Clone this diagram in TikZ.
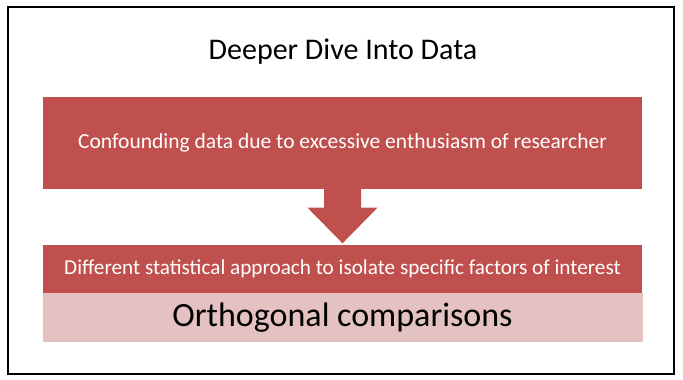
\documentclass[tikz,border=0pt]{standalone}
\usepackage{fontspec}
\setmainfont{Carlito}
\usetikzlibrary{calc}
\definecolor{boxred}{HTML}{C0504D}
\definecolor{boxpink}{HTML}{E5C2C2}
\begin{document}
\begin{tikzpicture}
		[x=1pt,y=-1pt,
		redbox/.style={fill=boxred,text=white,minimum width=599pt,inner sep=0pt},
		pinkbox/.style={fill=boxpink,text=black,minimum width=600pt,inner sep=0pt}]
		\useasboundingbox (0,0) rectangle (683,380);
		\draw[line width=1.6pt] (8,7) rectangle (674,374);
		\node (title) at (343,52) {\fontsize{30}{34}\selectfont Deeper Dive Into Data};
		\node[redbox,minimum height=92pt] (cause) at (342.5,142.5)
		{\fontsize{21.5}{25}\selectfont Confounding data due to excessive enthusiasm of researcher};
		\node[redbox,minimum height=48pt] (approach) at (342.5,268.5)
		{\fontsize{21.2}{25}\selectfont Different statistical approach to isolate specific factors of interest};
		\node[pinkbox,minimum height=49pt,anchor=north] (ortho) at (approach.south)
		{\fontsize{34}{38}\selectfont Orthogonal comparisons};
		% block arrow between the two red boxes
		\coordinate (tip) at ($(approach.north)+(0,-1)$);
		\fill[boxred] ($(cause.south)+(-18.5,-1)$) -- ($(cause.south)+(18.5,-1)$)
			-- ($(cause.south)+(18.5,19)$) -- ($(cause.south)+(35,19)$) -- (tip)
			-- ($(cause.south)+(-35,19)$) -- ($(cause.south)+(-18.5,19)$) -- cycle;
	\end{tikzpicture}
\end{document}
